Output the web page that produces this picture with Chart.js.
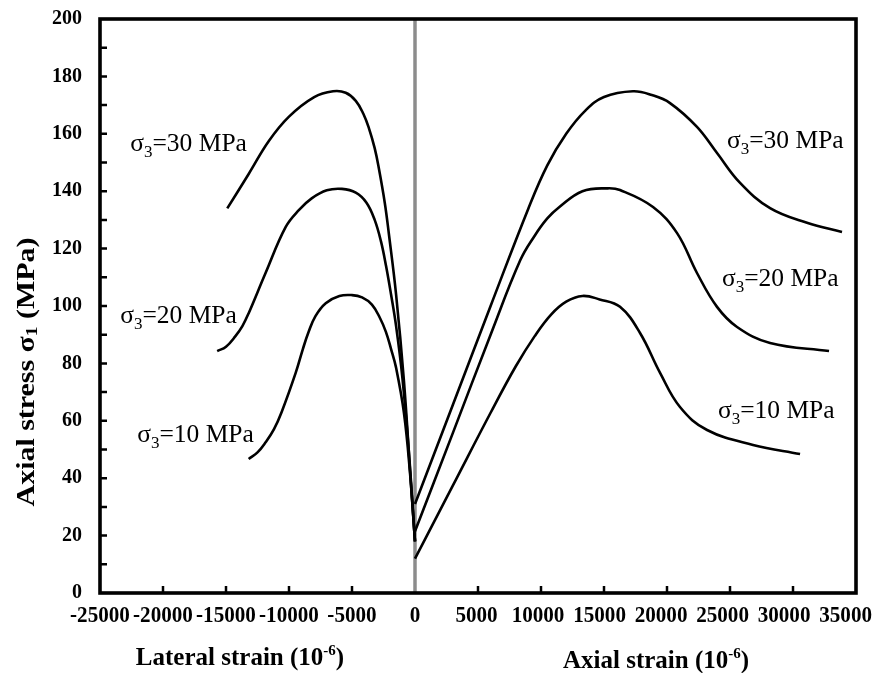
<!DOCTYPE html>
<html lang="en">
<head>
    <meta charset="UTF-8">
    <title>Axial stress vs lateral and axial strain</title>
    <script src="https://cdn.jsdelivr.net/npm/chart.js@4.4.1/dist/chart.umd.min.js"></script>
    <style>
        body {
            margin: 0;
            background: #fff;
        }
        .chart-container {
            width: 887px;
            height: 673px;
        }
    </style>
</head>
<body>
    <div class="chart-container">
        <canvas id="strainChart"></canvas>
    </div>

    <script>
        // lateral strain side (10^-6), negative values
        const lat30X = [-14900, -13200, -11600, -10000, -8000, -6500, -5500, -4700, -4100, -3660, -3200, -2870, -2400, -2070, -1500, -880, -320, 0];
        const lat30Y = [134, 146, 157.5, 166, 172.8, 174.8, 174.3, 171.5, 167, 162, 155, 148, 136, 125, 104, 74, 38, 18];
        const lat20X = [-15700, -15000, -14250, -13700, -13200, -11860, -10270, -9200, -8200, -7000, -5800, -4700, -3850, -3200, -2700, -2300, -1900, -1500, -1000, -500, 0];
        const lat20Y = [84.3, 85.8, 89.5, 93, 97.5, 111.5, 127.5, 133.5, 137.5, 140.3, 140.8, 139.5, 136, 130, 122.5, 114, 104, 93, 75, 50, 18];
        const lat10X = [-13200, -12500, -11860, -11200, -10590, -9470, -8900, -8440, -7900, -7085, -6000, -5000, -4200, -3420, -2800, -2310, -1900, -1512, -876, -400, 0];
        const lat10Y = [46.7, 49, 52.5, 57, 63, 76.7, 85, 91, 96.5, 101, 103.5, 103.8, 103, 100.5, 96, 91, 85, 78.7, 62.7, 42, 18];

        // axial strain side (10^-6)
        const ax30X = [0, 3000, 6000, 9000, 10500, 12000, 13500, 15000, 17300, 18800, 20240, 22380, 23970, 25800, 28180, 31110, 33890];
        const ax30Y = [31, 65.5, 100, 134, 149, 160, 168, 172.8, 174.8, 173.5, 170.7, 162.4, 153.3, 142.9, 134.1, 129, 125.8];
        const ax20X = [0, 3000, 6000, 8360, 9500, 10500, 11460, 13290, 15300, 16270, 18890, 20800, 22380, 23970, 25560, 28180, 32860];
        const ax20Y = [21.5, 55.7, 90, 116, 124.5, 130.5, 134.5, 140, 141, 140.4, 134.5, 125.4, 111.5, 99.7, 92.7, 87.1, 84.3];
        const ax10X = [0, 3000, 6000, 8000, 9500, 10800, 12000, 13290, 14650, 16270, 17860, 19450, 21030, 23180, 26830, 30560];
        const ax10Y = [12, 37.4, 62.8, 79, 89.5, 97, 101.5, 103.5, 102.3, 99.7, 90.6, 76.7, 64.8, 56.8, 51.6, 48.4];

        const xTicks = [-25000, -20000, -15000, -10000, -5000, 0, 5000, 10000, 15000, 20000, 25000, 30000, 35000];
        const xTickLabels = ['-25000', '-20000', '-15000', '-10000', '-5000', '0', '5000', '10000', '15000', '20000', '25000', '30000', '35000'];
        const yTicks = [0, 20, 40, 60, 80, 100, 120, 140, 160, 180, 200];
        const yMinorTicks = [10, 20, 30, 40, 50, 60, 70, 80, 90, 100, 110, 120, 130, 140, 150, 160, 170, 180, 190];

        // curve labels: text of sigma3, anchor (left edge, baseline) in data units
        const curveLabels = ['30', '20', '10', '30', '20', '10'];
        const curveLabelX = [-22600, -23400, -22050, 24760, 24360, 24040];
        const curveLabelY = [154, 94, 52.6, 155, 107, 61];

        const serif = '"Liberation Serif", "Times New Roman", serif';

        function toPoints(xs, ys) {
            return xs.map((v, i) => ({ x: v, y: ys[i] }));
        }

        function curve(xs, ys) {
            return {
                data: toPoints(xs, ys),
                showLine: true,
                borderColor: '#000',
                borderWidth: 2.6,
                pointRadius: 0,
                tension: 0.4,
                order: 1
            };
        }

        // draws a run of text pieces (for sub/superscripts)
        function drawRich(ctx, parts, x, y, align) {
            let total = 0;
            parts.forEach(p => { ctx.font = p.font; p.w = ctx.measureText(p.t).width; total += p.w; });
            let cx = align === 'center' ? x - total / 2 : x;
            parts.forEach(p => {
                ctx.font = p.font;
                ctx.fillText(p.t, cx, y + (p.dy || 0));
                cx += p.w;
            });
            return total;
        }

        const decor = {
            id: 'decor',
            afterDraw(chart) {
                const { ctx, chartArea: a, scales } = chart;
                const x = scales.x, y = scales.y;
                ctx.save();
                ctx.strokeStyle = '#000';
                ctx.fillStyle = '#000';

                // inner tick marks
                ctx.lineWidth = 2.5;
                ctx.beginPath();
                yMinorTicks.forEach(v => {
                    const py = y.getPixelForValue(v);
                    ctx.moveTo(a.left, py);
                    ctx.lineTo(a.left + 7, py);
                });
                xTicks.forEach(v => {
                    if (v === 0 || v === xTicks[0] || v === xTicks[xTicks.length - 1]) return;
                    const px = x.getPixelForValue(v);
                    ctx.moveTo(px, a.bottom);
                    ctx.lineTo(px, a.bottom - 7);
                });
                ctx.stroke();

                // frame
                ctx.lineWidth = 3.6;
                ctx.strokeRect(a.left, a.top, a.right - a.left, a.bottom - a.top);

                // x tick labels, narrow and tall like the original; the right group is
                // squeezed a little so the last label stays inside the canvas
                const sx = 0.88;
                ctx.font = 'bold 24px ' + serif;
                ctx.textBaseline = 'middle';
                ctx.textAlign = 'center';
                const n = xTicks.length, i0 = xTicks.indexOf(0);
                const lastW = ctx.measureText(xTickLabels[n - 1]).width * sx;
                const shift = Math.min(0, chart.width - 15 - (x.getPixelForValue(xTicks[n - 1]) + lastW / 2));
                xTickLabels.forEach((t, i) => {
                    let px = x.getPixelForValue(xTicks[i]);
                    if (i > i0) px += shift * (i - i0) / (n - 1 - i0);
                    ctx.save();
                    ctx.translate(px, 616);
                    ctx.scale(sx, 1);
                    ctx.fillText(t, 0, 0);
                    ctx.restore();
                });

                // curve labels
                ctx.textAlign = 'left';
                ctx.textBaseline = 'alphabetic';
                curveLabels.forEach((t, i) => {
                    drawRich(ctx, [
                        { t: 'σ', font: '25.5px ' + serif },
                        { t: '3', font: '17px ' + serif, dy: 6 },
                        { t: '=' + t + ' MPa', font: '25.5px ' + serif }
                    ], x.getPixelForValue(curveLabelX[i]), y.getPixelForValue(curveLabelY[i]), 'left');
                });

                // x axis titles
                const bigB = 'bold 25px ' + serif, supB = 'bold 15px ' + serif;
                drawRich(ctx, [
                    { t: 'Lateral strain (10', font: bigB },
                    { t: '-6', font: supB, dy: -10 },
                    { t: ')', font: bigB }
                ], 240, 665, 'center');
                drawRich(ctx, [
                    { t: 'Axial strain (10', font: bigB },
                    { t: '-6', font: supB, dy: -10 },
                    { t: ')', font: bigB }
                ], 656, 668, 'center');

                // y axis title
                ctx.translate(27, 372);
                ctx.rotate(-Math.PI / 2);
                ctx.scale(1.15, 1);
                ctx.textBaseline = 'middle';
                drawRich(ctx, [
                    { t: 'Axial stress σ', font: 'bold 26px ' + serif },
                    { t: '1', font: 'bold 17px ' + serif, dy: 6 },
                    { t: ' (MPa)', font: 'bold 26px ' + serif }
                ], 0, 0, 'center');

                ctx.restore();
            }
        };

        const ctx = document.getElementById('strainChart').getContext('2d');
        new Chart(ctx, {
            type: 'scatter',
            data: {
                datasets: [
                    curve(lat30X, lat30Y),
                    curve(lat20X, lat20Y),
                    curve(lat10X, lat10Y),
                    curve(ax30X, ax30Y),
                    curve(ax20X, ax20Y),
                    curve(ax10X, ax10Y),
                    {
                        // zero strain divider
                        data: [{ x: 0, y: 0 }, { x: 0, y: 200 }],
                        showLine: true,
                        borderColor: '#8c8c8c',
                        borderWidth: 3.5,
                        pointRadius: 0,
                        order: 5
                    }
                ]
            },
            options: {
                responsive: true,
                maintainAspectRatio: false,
                animation: false,
                layout: { padding: { top: 19, right: 31, bottom: 0, left: 0 } },
                plugins: {
                    legend: { display: false },
                    tooltip: { enabled: false }
                },
                scales: {
                    x: {
                        type: 'linear',
                        min: -25000,
                        max: 35000,
                        grid: { display: false, drawTicks: false },
                        border: { display: false },
                        ticks: { display: false, stepSize: 5000 },
                        afterFit(s) { s.height = 80; }
                    },
                    y: {
                        min: 0,
                        max: 200,
                        grid: { display: false, drawTicks: false },
                        border: { display: false },
                        afterBuildTicks(s) { s.ticks = yTicks.map(v => ({ value: v })); },
                        ticks: {
                            color: '#000',
                            padding: 18,
                            font: { family: serif, size: 20, weight: 'bold' }
                        },
                        afterFit(s) {
                            s.width = 100;
                            s.paddingTop = 0;
                            s.paddingBottom = 0;
                        }
                    }
                }
            },
            plugins: [decor]
        });
    </script>
</body>
</html>
